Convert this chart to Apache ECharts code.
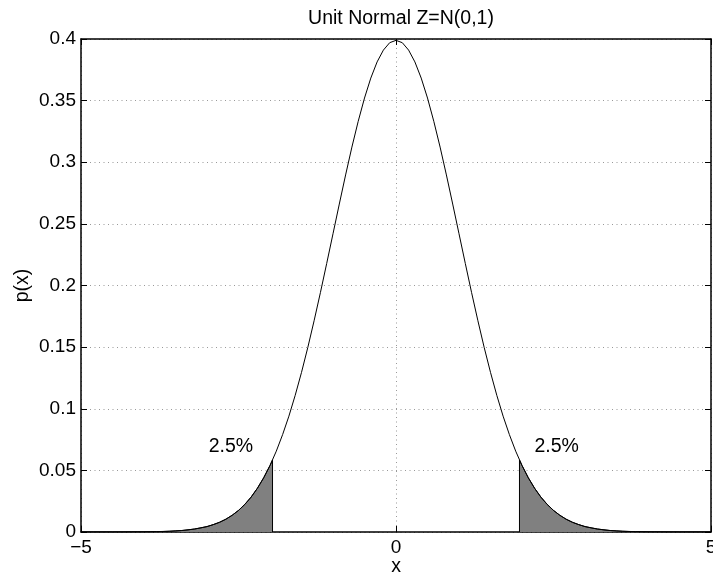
<!DOCTYPE html>
<html><head><meta charset="utf-8">
<script src="https://cdn.jsdelivr.net/npm/echarts@6/dist/echarts.min.js"></script>
<style>html,body{margin:0;padding:0;background:#fff}#c{width:713px;height:576px}</style>
</head><body><div id="c"></div>
<script>
// x positions of the curve samples
const xValues = [-5.0,-4.9,-4.8,-4.7,-4.6,-4.5,-4.4,-4.3,-4.2,-4.1,-4.0,-3.9,-3.8,-3.7,-3.6,-3.5,-3.4,-3.3,-3.2,-3.1,-3.0,-2.9,-2.8,-2.7,-2.6,-2.5,-2.4,-2.3,-2.2,-2.1,-2.0,-1.9,-1.8,-1.7,-1.6,-1.5,-1.4,-1.3,-1.2,-1.1,-1.0,-0.9,-0.8,-0.7,-0.6,-0.5,-0.4,-0.3,-0.2,-0.1,0.0,0.1,0.2,0.3,0.4,0.5,0.6,0.7,0.8,0.9,1.0,1.1,1.2,1.3,1.4,1.5,1.6,1.7,1.8,1.9,2.0,2.1,2.2,2.3,2.4,2.5,2.6,2.7,2.8,2.9,3.0,3.1,3.2,3.3,3.4,3.5,3.6,3.7,3.8,3.9,4.0,4.1,4.2,4.3,4.4,4.5,4.6,4.7,4.8,4.9,5.0];
// p(x)
const pValues = [0.0000,0.0000,0.0000,0.0000,0.0000,0.0000,0.0000,0.0000,0.0001,0.0001,0.0001,0.0002,0.0003,0.0004,0.0006,0.0009,0.0012,0.0017,0.0024,0.0033,0.0044,0.0060,0.0079,0.0104,0.0136,0.0175,0.0224,0.0283,0.0355,0.0440,0.0540,0.0656,0.0790,0.0940,0.1109,0.1295,0.1497,0.1714,0.1942,0.2179,0.2420,0.2661,0.2897,0.3123,0.3332,0.3521,0.3683,0.3814,0.3910,0.3970,0.3989,0.3970,0.3910,0.3814,0.3683,0.3521,0.3332,0.3123,0.2897,0.2661,0.2420,0.2179,0.1942,0.1714,0.1497,0.1295,0.1109,0.0940,0.0790,0.0656,0.0540,0.0440,0.0355,0.0283,0.0224,0.0175,0.0136,0.0104,0.0079,0.0060,0.0044,0.0033,0.0024,0.0017,0.0012,0.0009,0.0006,0.0004,0.0003,0.0002,0.0001,0.0001,0.0001,0.0000,0.0000,0.0000,0.0000,0.0000,0.0000,0.0000,0.0000];
// shaded left tail (x <= -1.96)
const leftTailX = [-5.0,-4.5,-4.0,-3.8,-3.6,-3.4,-3.2,-3.0,-2.9,-2.8,-2.7,-2.6,-2.5,-2.4,-2.3,-2.2,-2.1,-2.0,-1.96];
const leftTailP = [0.0000,0.0000,0.0001,0.0003,0.0006,0.0012,0.0024,0.0044,0.0060,0.0079,0.0104,0.0136,0.0175,0.0224,0.0283,0.0355,0.0440,0.0540,0.0584];
// shaded right tail (x >= 1.96)
const rightTailX = [1.96,2.0,2.1,2.2,2.3,2.4,2.5,2.6,2.7,2.8,2.9,3.0,3.2,3.4,3.6,3.8,4.0,4.5,5.0];
const rightTailP = [0.0584,0.0540,0.0440,0.0355,0.0283,0.0224,0.0175,0.0136,0.0104,0.0079,0.0060,0.0044,0.0024,0.0012,0.0006,0.0003,0.0001,0.0000,0.0000];
const xTicks = [-5, 0, 5];
const yTicks = [0,0.05,0.1,0.15,0.2,0.25,0.3,0.35,0.4];
const annotations = [{x:-2.62, y:0.069, text:'2.5%'},{x:2.55, y:0.069, text:'2.5%'}];

const zip = (a,b) => a.map((v,i)=>[v,b[i]]);
const FONT = 'Liberation Sans, Arial, Helvetica, sans-serif';
const chart = echarts.init(document.getElementById('c'));
const tailSeries = (xs, ps) => ({
  type:'line', data: zip(xs, ps), symbol:'none', silent:true,
  lineStyle:{color:'#000', width:1}, areaStyle:{color:'#808080', opacity:1, origin:'start'}, z:2
});
const edge = (x, p) => ({
  type:'line', data:[[x,0],[x,p]], symbol:'none', silent:true,
  lineStyle:{color:'#000', width:1}, z:3
});
const grid = {color:'#999', type:[1,3.5], width:1};
chart.setOption({
  animation:false,
  title:{text:'Unit Normal Z=N(0,1)', left:396, top:4, textAlign:'center',
    textStyle:{fontFamily:FONT, fontSize:19.5, fontWeight:'normal', color:'#000'}},
  grid:{left:81, right:2, top:39, bottom:44, containLabel:false, outerBoundsMode:'none'},
  xAxis:[{
    type:'value', min:-5, max:5, interval:5, name:'x', nameLocation:'middle', nameGap:25,
    nameMoveOverlap:false,
    nameTextStyle:{fontFamily:FONT, fontSize:19.5, color:'#000'},
    axisLine:{onZero:false, lineStyle:{color:'#000', width:1.5}},
    axisTick:{inside:true, length:6, lineStyle:{color:'#000'}},
    axisLabel:{fontFamily:FONT, fontSize:19, color:'#000', margin:6,
      formatter: v => String(v).replace('-', '\u2212')},
    splitLine:{show:true, lineStyle:grid}
  },{
    type:'value', min:-5, max:5, interval:5, position:'top',
    axisLine:{show:true, onZero:false, lineStyle:{color:'#000', width:1.5}},
    axisTick:{inside:true, length:6, lineStyle:{color:'#000'}},
    axisLabel:{show:false}, splitLine:{show:false}
  }],
  yAxis:[{
    type:'value', min:0, max:0.4, interval:0.05, name:'p(x)', nameLocation:'middle', nameGap:48,
    nameMoveOverlap:false,
    nameTextStyle:{fontFamily:FONT, fontSize:19.5, color:'#000'},
    axisLine:{show:true, onZero:false, lineStyle:{color:'#000', width:1.5}},
    axisTick:{show:true, inside:true, length:6, lineStyle:{color:'#000'}},
    axisLabel:{fontFamily:FONT, fontSize:19, color:'#000', margin:5,
      formatter: v => String(+v.toFixed(2))},
    splitLine:{show:true, lineStyle:grid}
  },{
    type:'value', min:0, max:0.4, interval:0.05, position:'right',
    axisLine:{show:true, onZero:false, lineStyle:{color:'#000', width:1.5}},
    axisTick:{show:true, inside:true, length:6, lineStyle:{color:'#000'}},
    axisLabel:{show:false}, splitLine:{show:false}
  }],
  series:[
    tailSeries(leftTailX, leftTailP),
    tailSeries(rightTailX, rightTailP),
    edge(leftTailX[leftTailX.length-1], leftTailP[leftTailP.length-1]),
    edge(rightTailX[0], rightTailP[0]),
    {type:'line', data: zip(xValues, pValues), symbol:'none', silent:true,
     lineStyle:{color:'#000', width:1}, z:4},
    {type:'scatter', data: annotations.map(a=>[a.x,a.y,a.text]), symbolSize:0, silent:true,
     itemStyle:{opacity:1},
     label:{show:true, position:'inside', formatter: p => p.data[2], opacity:1,
       textBorderWidth:0, fontFamily:FONT, fontSize:19.5, color:'#000'}}
  ]
});
</script></body></html>
